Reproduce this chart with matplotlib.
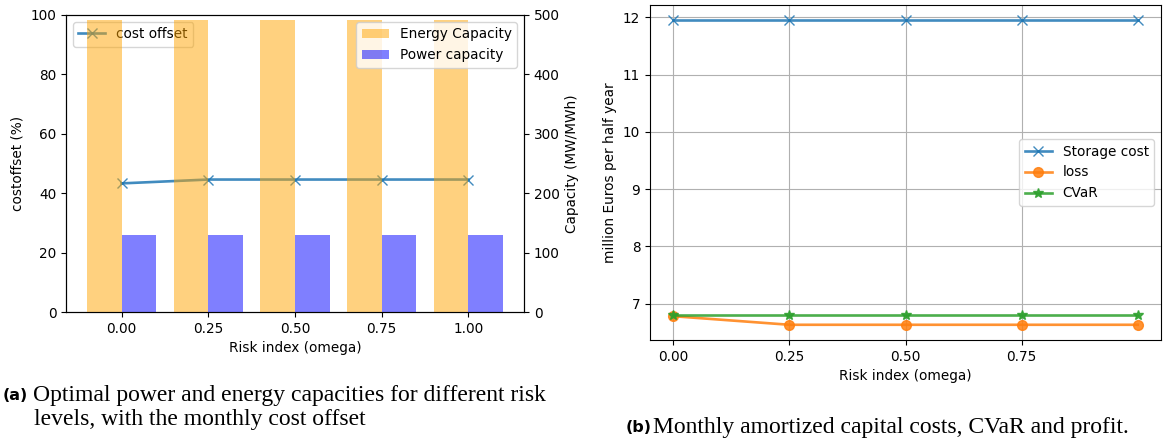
import matplotlib
matplotlib.use("Agg")
import matplotlib.pyplot as plt
import numpy as np

# ---- data ----
omega = [0.0, 0.25, 0.5, 0.75, 1.0]
cost_offset = [43.3, 44.6, 44.6, 44.6, 44.6]          # %
energy_capacity = [491, 491, 491, 491, 491]           # MWh
power_capacity = [129, 129, 129, 129, 129]            # MW

storage_cost = [11.95, 11.95, 11.95, 11.95, 11.95]
loss = [6.78, 6.63, 6.63, 6.63, 6.63]
cvar = [6.80, 6.80, 6.80, 6.80, 6.80]
right_xticks = [0.0, 0.25, 0.5, 0.75]

W, H = 1163, 438
fig = plt.figure(figsize=(W / 100, H / 100), dpi=100)

def rect(l, r, t, b):
    return [l / W, 1 - b / H, (r - l) / W, (b - t) / H]

FS = 9.8
LW = 1.9
MS = 7

# ---- left panel ----
ax1 = fig.add_axes(rect(66, 524, 15, 312))
ax1.plot(omega, cost_offset, marker='x', color='tab:blue', lw=LW, ms=MS, alpha=0.85,
         label='cost offset')
ax1.set_ylim(0, 100)
ax1.set_ylabel('costoffset (%)', fontsize=FS)
ax1.set_xlabel('Risk index (omega)', fontsize=FS)
ax1.tick_params(labelsize=FS)
ax1.legend(loc='upper left', fontsize=FS)

ax2 = ax1.twinx()
ax2.bar(omega, energy_capacity, width=-0.1, align='edge', color='orange', alpha=0.5,
        label='Energy Capacity')
ax2.bar(omega, power_capacity, width=0.1, align='edge', color='blue', alpha=0.5,
        label='Power capacity')
ax2.set_ylim(0, 500)
ax2.set_ylabel('Capacity (MW/MWh)', fontsize=FS)
ax2.tick_params(labelsize=FS)
ax2.legend(loc='upper right', fontsize=FS)
ax1.set_xticks(omega)
ax1.set_xticklabels(['0.00', '0.25', '0.50', '0.75', '1.00'])

# ---- right panel ----
ax3 = fig.add_axes(rect(650, 1161, 5, 340))
ax3.plot(omega, storage_cost, marker='x', color='tab:blue', lw=LW, ms=MS, alpha=0.85,
         label='Storage cost')
ax3.plot(omega, loss, marker='o', color='tab:orange', lw=LW, ms=MS, alpha=0.85,
         label='loss')
ax3.plot(omega, cvar, marker='*', color='tab:green', lw=LW, ms=MS, alpha=0.85,
         label='CVaR')
ax3.set_xticks(right_xticks)
ax3.set_xticklabels(['0.00', '0.25', '0.50', '0.75'])
ax3.grid(True)
ax3.set_xlabel('Risk index (omega)', fontsize=FS)
ax3.set_ylabel('million Euros per half year', fontsize=FS)
ax3.tick_params(labelsize=FS)
ax3.legend(loc='center right', fontsize=FS)

# ---- captions ----
CAP = 17
LAB = 11.5
fig.text(3 / W, 1 - 395 / H, '(a)', fontsize=LAB, fontweight='bold',
         family='DejaVu Sans', va='center', ha='left')
fig.text(33 / W, 1 - 395 / H, 'Optimal power and energy capacities for different risk',
         fontsize=CAP, family='Liberation Serif', va='center', ha='left')
fig.text(34 / W, 1 - 419 / H, 'levels, with the monthly cost offset',
         fontsize=CAP, family='Liberation Serif', va='center', ha='left')
fig.text(626 / W, 1 - 427 / H, '(b)', fontsize=LAB, fontweight='bold',
         family='DejaVu Sans', va='center', ha='left')
fig.text(653 / W, 1 - 427 / H, 'Monthly amortized capital costs, CVaR and profit.',
         fontsize=CAP, family='Liberation Serif', va='center', ha='left')

fig.savefig('out.png', dpi=100)
